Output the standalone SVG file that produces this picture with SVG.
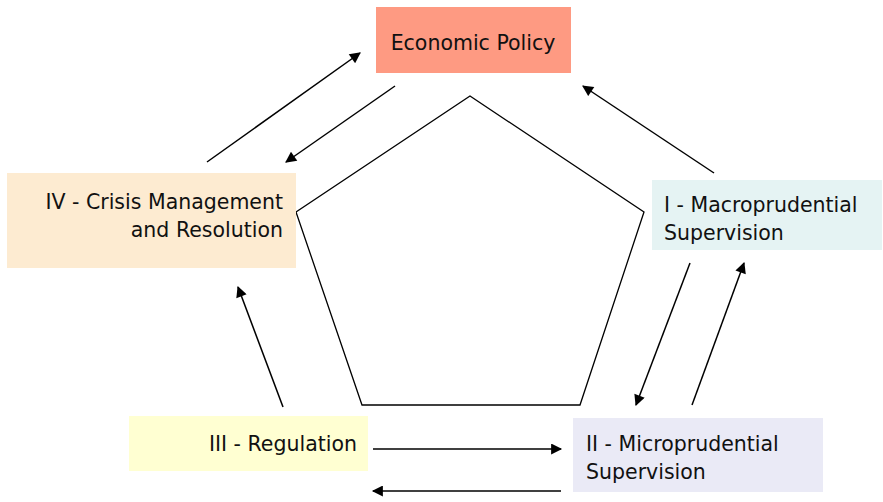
<svg xmlns="http://www.w3.org/2000/svg" width="883" height="502" viewBox="0 0 883 502">
<style>
text{font-family:"DejaVu Sans","Liberation Sans",sans-serif;font-size:20.5px;fill:#111}
.c line{stroke:#000;stroke-width:1.5;marker-end:url(#ah)}
</style>
<defs>
<marker id="ah" viewBox="0 0 10 10" refX="9" refY="5" markerWidth="13" markerHeight="11" markerUnits="userSpaceOnUse" orient="auto"><path d="M0,0 L10,5 L0,10 Z" fill="#000"/></marker>
</defs>
<rect width="883" height="502" fill="#fff"/>
<polygon id="pentagon" points="470,96 644,212 580,405 362,405 296,212" fill="#fff" stroke="#000" stroke-width="1.3"/>
<g id="economic-policy"><rect x="376" y="7" width="195" height="66" fill="#FE9A82"/><text x="473" y="50" text-anchor="middle">Economic Policy</text></g>
<g id="crisis"><rect x="7" y="173" width="289" height="95" fill="#FDEBD1"/><text x="283" y="209" text-anchor="end">IV - Crisis Management</text><text x="283" y="237" text-anchor="end">and Resolution</text></g>
<g id="macro"><rect x="652" y="180" width="230" height="70" fill="#E5F3F3"/><text x="664" y="212">I - Macroprudential</text><text x="664" y="240">Supervision</text></g>
<g id="regulation"><rect x="129" y="416" width="239" height="55" fill="#FFFFD2"/><text x="357" y="451" text-anchor="end">III - Regulation</text></g>
<g id="micro"><rect x="573" y="418" width="250" height="74" fill="#EAEAF6"/><text x="586" y="451">II - Microprudential</text><text x="586" y="479">Supervision</text></g>
<g class="c" id="connectors">
<line x1="207" y1="162" x2="360" y2="53"/>
<line x1="395" y1="86" x2="286" y2="162"/>
<line x1="714" y1="173" x2="583" y2="86"/>
<line x1="690" y1="263" x2="636" y2="405"/>
<line x1="692" y1="405" x2="744" y2="263"/>
<line x1="373" y1="449" x2="561" y2="449"/>
<line x1="561" y1="491" x2="373" y2="491"/>
<line x1="283" y1="407" x2="238" y2="287"/>
</g>
</svg>
